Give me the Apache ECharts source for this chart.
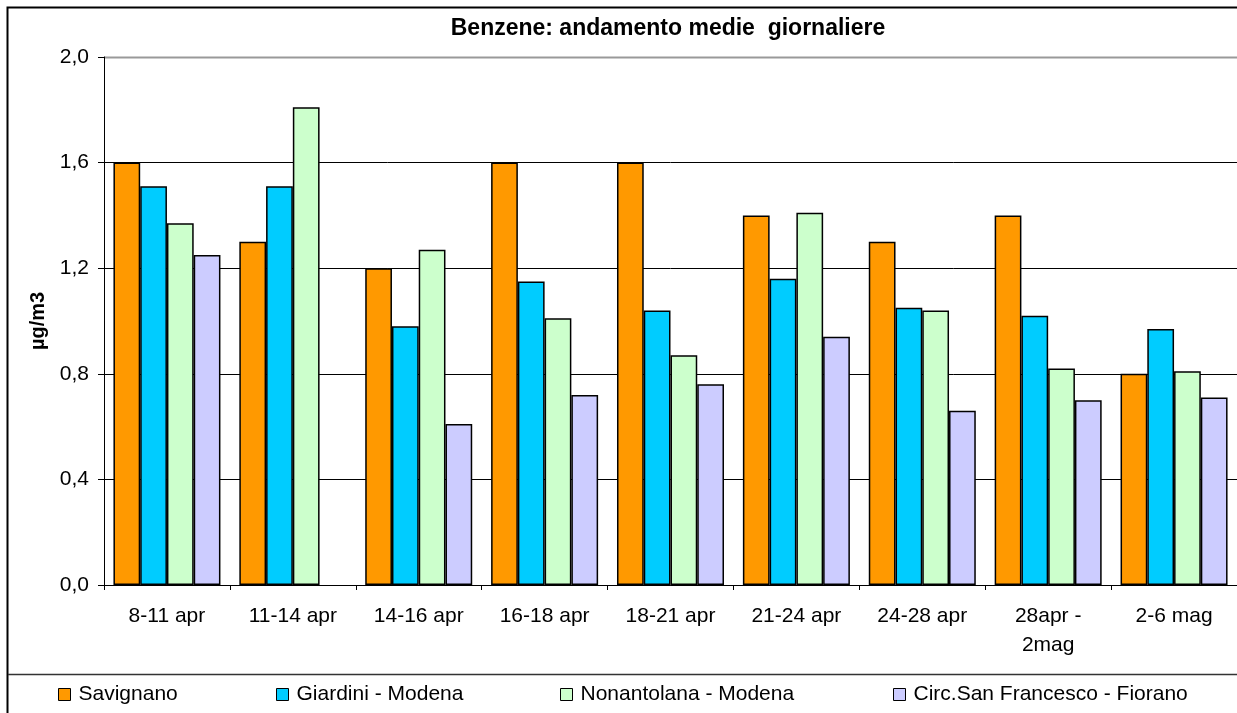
<!DOCTYPE html>
<html>
<head>
<meta charset="utf-8">
<script src="https://cdn.jsdelivr.net/npm/echarts@6/dist/echarts.min.js"></script>
<style>
html,body{margin:0;padding:0;background:#fff;}
#chart{width:1237px;height:713px;}
</style>
</head>
<body>
<div id="chart"></div>
<script>
const categories = ['8-11 apr','11-14 apr','14-16 apr','16-18 apr','18-21 apr','21-24 apr','24-28 apr','28apr - 2mag','2-6 mag'];
const seriesNames = ['Savignano','Giardini - Modena','Nonantolana - Modena','Circ.San Francesco - Fiorano'];
const savignano = [1.6,1.3,1.2,1.6,1.6,1.4,1.3,1.4,0.8];
const giardini = [1.51,1.51,0.98,1.15,1.04,1.16,1.05,1.02,0.97];
const nonantolana = [1.37,1.81,1.27,1.01,0.87,1.41,1.04,0.82,0.81];
const circSanFrancesco = [1.25,null,0.61,0.72,0.76,0.94,0.66,0.70,0.71];
const yTicks = [0,0.4,0.8,1.2,1.6,2.0];
const titleText = 'Benzene: andamento medie  giornaliere';
const yAxisName = 'µg/m3';

const colors = ['#FF9900','#00CCFF','#CCFFCC','#CCCCFF'];
const seriesData = [savignano, giardini, nonantolana, circSanFrancesco];
const legendLefts = [58, 276, 560, 893];
const FONT = '"Liberation Sans", Arial, sans-serif';

const chart = echarts.init(document.getElementById('chart'), null, {renderer:'canvas'});

const series = seriesNames.map((n,i)=>({
  name:n, type:'bar', data:seriesData[i],
  barGap:'0%', barCategoryGap:'15%',
  itemStyle:{color:colors[i], borderColor:'#000', borderWidth:1.5},
  emphasis:{disabled:true}
}));

const legends = seriesNames.map((n,i)=>({
  data:[n], left:legendLefts[i], top:684, padding:0,
  icon:'rect', itemWidth:12, itemHeight:12,
  itemStyle:{borderColor:'#000', borderWidth:1},
  textStyle:{fontFamily:FONT, fontSize:21, color:'#000', padding:[0,0,0,3]},
  selectedMode:false
}));

chart.setOption({
  animation:false,
  backgroundColor:'#fff',
  textStyle:{fontFamily:FONT},
  grid:{left:104, top:57, width:1138, height:528, containLabel:false},
  legend:legends,
  xAxis:{
    type:'category', data:categories, boundaryGap:true,
    axisLine:{lineStyle:{color:'#000', width:1}},
    axisTick:{show:true, length:5, lineStyle:{color:'#000'}},
    axisLabel:{color:'#000', fontSize:21, fontFamily:FONT, margin:17, lineHeight:29, interval:0,
      formatter:v=>v.replace(' - ',' -\n')},
    splitLine:{show:false}
  },
  yAxis:{
    type:'value', min:yTicks[0], max:yTicks[yTicks.length-1], interval:0.4,
    name:yAxisName, nameLocation:'middle', nameGap:48,
    nameTextStyle:{fontFamily:FONT, fontSize:20, fontWeight:'bold', color:'#000'},
    axisLine:{show:true, lineStyle:{color:'#000', width:1}},
    axisTick:{show:true, length:6, lineStyle:{color:'#000'}},
    axisLabel:{color:'#000', fontSize:21, fontFamily:FONT, margin:15,
      formatter:v=>v.toFixed(1).replace('.',',')},
    splitLine:{show:true, lineStyle:{color:['#000','#000','#000','#000','#000','#999'], width:1}}
  },
  graphic:[
    {type:'rect', shape:{x:7.5, y:7.5, width:1250, height:720}, style:{fill:'none', stroke:'#000', lineWidth:2}, silent:true},
    {type:'line', shape:{x1:8, y1:674.5, x2:1237, y2:674.5}, style:{stroke:'#333', lineWidth:1.5}, silent:true},
    {type:'line', shape:{x1:104, y1:57.5, x2:1237, y2:57.5}, style:{stroke:'#999', lineWidth:2}, silent:true, z:-1},
    {type:'text', x:668, y:29, style:{text:titleText, font:'bold 23px ' + FONT, fill:'#000', align:'center', verticalAlign:'middle'}, silent:true}
  ],
  series:series
});
</script>
</body>
</html>
